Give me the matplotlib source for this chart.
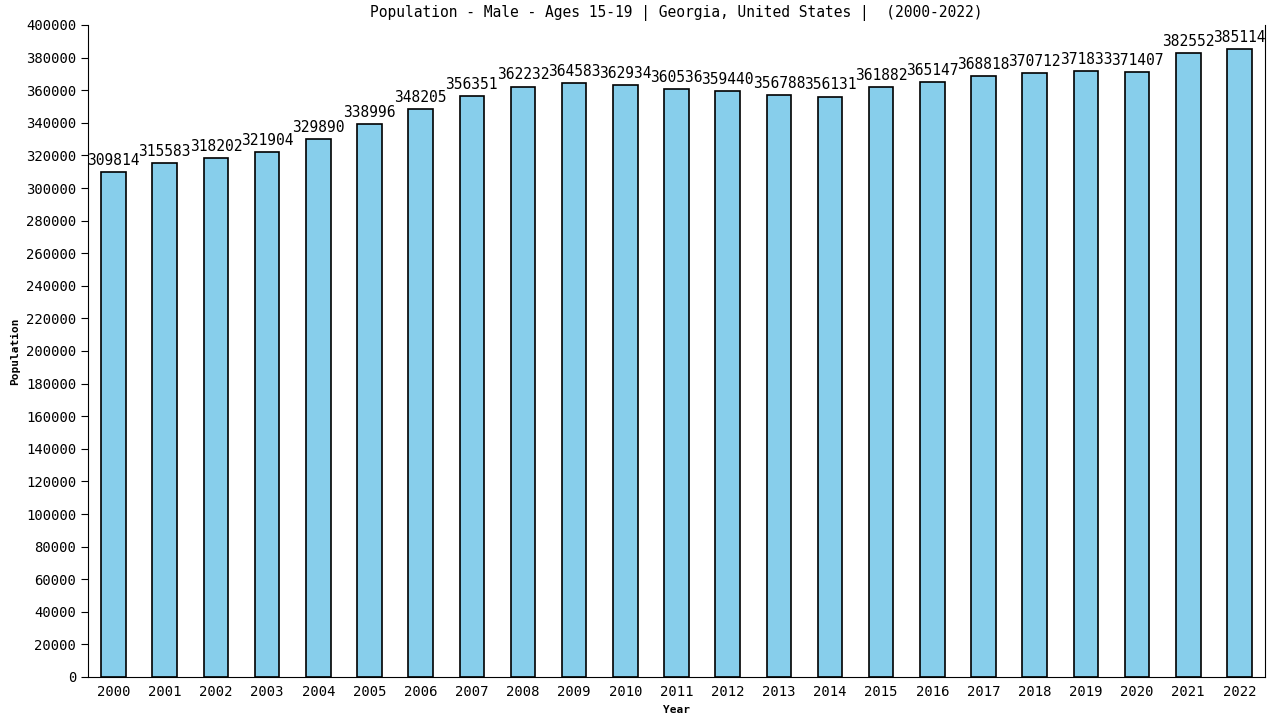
import matplotlib
matplotlib.use("Agg")
import matplotlib.pyplot as plt

# данные с картинки
years = [str(y) for y in range(2000, 2023)]
population = [309814, 315583, 318202, 321904, 329890, 338996, 348205, 356351,
              362232, 364583, 362934, 360536, 359440, 356788, 356131, 361882,
              365147, 368818, 370712, 371833, 371407, 382552, 385114]
y_ticks = list(range(0, 400001, 20000))

FONT = "DejaVu Sans Mono"

fig = plt.figure(figsize=(12.8, 7.2), dpi=100)
ax = fig.add_axes([88 / 1280, 43 / 720, (1265 - 88) / 1280, (677 - 25) / 720])

x = list(range(len(years)))
ax.bar(x, population, width=0.48, color="#87ceeb", edgecolor="black", linewidth=1.2)

for xi, v in zip(x, population):
    ax.text(xi, v + 2500, str(v), ha="center", va="bottom",
            fontsize=10.5, family=FONT)

ax.set_xlim(-0.5, len(years) - 0.5)
ax.set_ylim(0, 400000)
ax.set_xticks(x)
ax.set_xticklabels(years, family=FONT, fontsize=10)
ax.set_yticks(y_ticks)
ax.set_yticklabels([str(t) for t in y_ticks], family=FONT, fontsize=10)
ax.tick_params(axis="x", length=0, pad=6)
ax.tick_params(axis="y", length=5, direction="out")

ax.spines["top"].set_visible(False)
ax.spines["right"].set_visible(True)

ax.set_title("Population - Male - Ages 15-19 | Georgia, United States |  (2000-2022)",
             family=FONT, fontsize=10.5, pad=6)
ax.set_xlabel("Year", family=FONT, fontsize=8, fontweight="bold")
ax.set_ylabel("Population", family=FONT, fontsize=8, fontweight="bold")

fig.savefig("out.png", dpi=100)
